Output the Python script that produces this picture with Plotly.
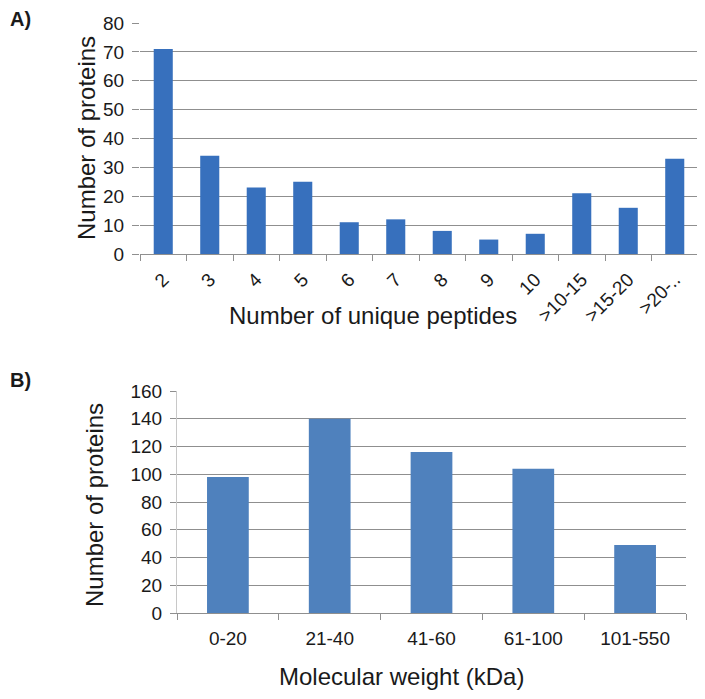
import plotly.graph_objects as go

# Panel A data
peptide_cats = ["2", "3", "4", "5", "6", "7", "8", "9", "10", ">10-15", ">15-20", ">20-.."]
peptide_counts = [71, 34, 23, 25, 11, 12, 8, 5, 7, 21, 16, 33]
a_yticks = [0, 10, 20, 30, 40, 50, 60, 70, 80]

# Panel B data
mw_cats = ["0-20", "21-40", "41-60", "61-100", "101-550"]
mw_counts = [98, 140, 116, 104, 49]
b_yticks = [0, 20, 40, 60, 80, 100, 120, 140, 160]

FONT = "Liberation Sans, Arial, sans-serif"
TXT = "#1a1a1a"
GRID = "#8f8f8f"
OFF = 8  # page body margin
W, H = 705 - OFF, 699 - OFF


def fx(x):
    return (x - OFF) / W


def fy(y):
    return 1 - (y - OFF) / H


fig = go.Figure()
fig.add_trace(go.Bar(x=peptide_cats, y=peptide_counts, xaxis="x", yaxis="y",
                     marker=dict(color="#3770bd", line=dict(width=0)), showlegend=False))
fig.add_trace(go.Bar(x=mw_cats, y=mw_counts, xaxis="x2", yaxis="y2",
                     marker=dict(color="#4f81bd", line=dict(width=0)), showlegend=False))

fig.update_layout(
    width=W, height=H,
    margin=dict(l=0, r=0, t=0, b=0),
    paper_bgcolor="white", plot_bgcolor="white",
    font=dict(family=FONT, color=TXT),
    bargap=0.59,
    xaxis=dict(domain=[fx(140), fx(698)], anchor="y", type="category", automargin=False,
               tickangle=-45, tickfont=dict(size=19), ticklabelstandoff=6,
               showline=True, linecolor=GRID, linewidth=1,
               ticks="outside", tickson="boundaries", ticklen=6, tickcolor=GRID),
    yaxis=dict(domain=[fy(254), fy(23)], anchor="x", range=[0, 80], automargin=False,
               tickvals=a_yticks, tickfont=dict(size=19), ticklabelstandoff=4,
               showgrid=True, gridcolor=GRID, gridwidth=1,
               showline=False, zeroline=False,
               ticks="outside", ticklen=7, tickcolor=GRID),
    xaxis2=dict(domain=[fx(177), fx(686)], anchor="y2", type="category", automargin=False,
                tickfont=dict(size=19), ticklabelstandoff=8,
                showline=True, linecolor=GRID, linewidth=1,
                ticks="outside", tickson="boundaries", ticklen=6, tickcolor=GRID),
    yaxis2=dict(domain=[fy(613), fy(391)], anchor="x2", range=[0, 160], automargin=False,
                tickvals=b_yticks, tickfont=dict(size=19), ticklabelstandoff=4,
                showgrid=True, gridcolor=GRID, gridwidth=1,
                showline=True, linecolor="#c8c8c8", zeroline=False,
                ticks="outside", ticklen=6, tickcolor=GRID),
)

labels = [
    ("<b>A)</b>", 8, 19, "left", 0, 20),
    ("<b>B)</b>", 8, 380, "left", 0, 20),
    ("Number of proteins", 86, 138, "center", -90, 24),
    ("Number of unique peptides", 373, 315, "center", 0, 24),
    ("Number of proteins", 95, 505, "center", -90, 24),
    ("Molecular weight (kDa)", 401, 676, "center", 0, 24),
]
for text, x, y, xa, ang, size in labels:
    fig.add_annotation(text=text, x=fx(x), y=fy(y), xref="paper", yref="paper",
                       xanchor=xa, yanchor="middle", textangle=ang, showarrow=False,
                       font=dict(size=size, family=FONT, color=TXT))

fig.write_html("out.html")
